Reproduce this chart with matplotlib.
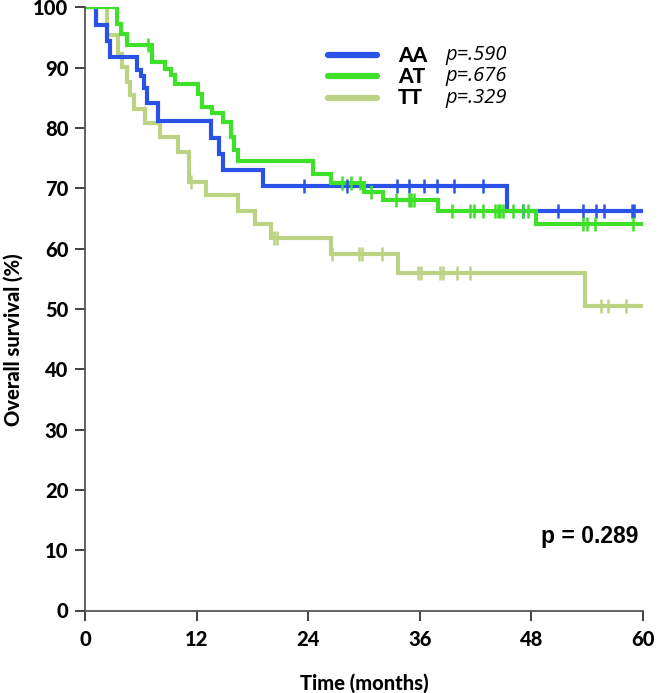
import numpy as np
import matplotlib
matplotlib.use("Agg")
import matplotlib.pyplot as plt

# Kaplan-Meier steps (time in months, survival %)
AA_t = [0, 1.2, 2.4, 2.7, 5.6, 6.0, 6.3, 6.7, 7.8, 13.5, 14.4, 14.8, 19.1, 45.4]
AA_s = [100, 97.1, 94.4, 91.8, 89.6, 88.6, 86.6, 84.2, 81.2, 78.4, 75.6, 73.0, 70.4, 66.3]
AA_cens = [23.5, 28.2, 33.6, 34.8, 36.4, 37.9, 39.7, 42.8, 47.1, 50.9, 53.6,
           54.9, 55.8, 58.8, 59.0]

AT_t = [0, 3.4, 3.9, 4.5, 7.2, 8.6, 9.2, 9.7, 12.2, 12.6, 13.7, 14.8, 15.7,
        16.0, 16.4, 24.5, 26.5, 30.0, 32.0, 38.0, 48.5]
AT_s = [100, 97.3, 95.5, 93.7, 91.0, 89.8, 88.7, 87.3, 85.7, 83.5, 82.4, 81.0,
        78.5, 76.3, 74.6, 72.3, 70.8, 69.4, 68.0, 66.3, 64.1]
AT_cens = [6.8, 27.6, 28.6, 29.6, 30.7, 33.4, 34.8, 35.1, 35.4, 39.5, 41.4,
           41.8, 42.8, 44.1, 44.4, 44.6, 45.0, 46.0, 47.1, 47.6, 53.6, 54.0,
           54.8, 58.9]

TT_t = [0, 2.4, 3.6, 4.0, 4.5, 4.8, 5.3, 6.4, 8.1, 10.0, 11.2, 13.0, 16.4,
        18.3, 20.0, 26.4, 33.7, 53.8]
TT_s = [100, 95.4, 92.3, 90.1, 87.6, 85.4, 83.2, 80.8, 78.5, 76.0, 71.0, 68.8,
        66.3, 64.1, 61.8, 59.1, 55.9, 50.4]
TT_cens = [11.4, 20.3, 20.6, 26.6, 29.5, 29.8, 31.9, 35.8, 36.1, 38.2, 38.5,
           40.0, 41.4, 55.5, 56.2, 58.2]

GROUPS = ["AA", "AT", "TT"]
PVALS = ["p=.590", "p=.676", "p=.329"]
C = {"AA": "#2a52e6", "AT": "#3ee02a", "TT": "#bcd384"}
X_TICKS = [0, 12, 24, 36, 48, 60]
Y_TICKS = list(range(0, 101, 10))

BOLD = "Lato"
W = 900  # heavy weight, closer to the Calibri bold of the original


def surv_at(ts, ss, x):
    i = np.searchsorted(ts, x, side="right") - 1
    return ss[i]


fig = plt.figure(figsize=(6.57, 6.93), dpi=100)
ax = fig.add_axes([85 / 657, 1 - 610.5 / 693, 558 / 657, 603.2 / 693])

data = {"AA": (AA_t, AA_s, AA_cens), "AT": (AT_t, AT_s, AT_cens),
        "TT": (TT_t, TT_s, TT_cens)}
for k in ("TT", "AA", "AT"):
    t, s, cens = data[k]
    t = np.array(t + [60.0])
    s = np.array(s + [s[-1]])
    ax.step(t, s, where="post", color=C[k], lw=3.0, solid_joinstyle="miter", zorder=2)
    cy = [surv_at(t, s, c) for c in cens]
    ax.plot(cens, cy, ls="none", marker="|", ms=10, mew=1.8, color=C[k], zorder=3)

ax.set_xlim(0, 60)
ax.set_ylim(0, 100)
ax.set_xticks(X_TICKS)
ax.set_yticks(Y_TICKS)
ax.spines["top"].set_visible(False)
ax.spines["right"].set_visible(False)
for sp in ("left", "bottom"):
    ax.spines[sp].set_color("#555555")
    ax.spines[sp].set_linewidth(1.3)
ax.tick_params(direction="out", length=7, width=1.3, color="#333333", pad=5)
for lab in ax.get_xticklabels() + ax.get_yticklabels():
    lab.set_fontfamily(BOLD)
    lab.set_fontweight(W)
    lab.set_fontsize(14.5)
ax.tick_params(axis="x", pad=7)

ax.set_xlabel("Time (months)", fontfamily=BOLD, fontweight=W, fontsize=14.5, va="center")
ax.xaxis.set_label_coords(0.5, -(683 - 610.5) / 603.2)
ax.set_ylabel("Overall survival (%)", fontfamily=BOLD, fontweight=W, fontsize=14.5, va="center")
ax.yaxis.set_label_coords((13 - 85) / 558, 1 - (340 - 7.3) / 603.2)

# hand-drawn legend
lx0, lx1 = (328 - 85) / 558, (377 - 85) / 558
for i, (g, p) in enumerate(zip(GROUPS, PVALS)):
    yy = 1 - (55 + i * 21.3 - 7.3) / 603.2
    ax.plot([lx0, lx1], [yy, yy], transform=ax.transAxes, color=C[g], lw=4.5,
            solid_capstyle="round", zorder=4)
    ax.text((398 - 85) / 558, yy, g, transform=ax.transAxes, fontfamily=BOLD,
            fontweight=W, fontsize=15, va="center", ha="left")
    ax.text((507 - 85) / 558, yy, p, transform=ax.transAxes, fontfamily="Open Sans",
            style="italic", fontsize=14.5, va="center", ha="right")

ax.text((638 - 85) / 558, 1 - (537 - 7.3) / 603.2, "p = 0.289", transform=ax.transAxes,
        fontfamily="Liberation Sans", fontweight="bold", fontsize=16.5, ha="right", va="center")

fig.savefig("out.png", dpi=100)
